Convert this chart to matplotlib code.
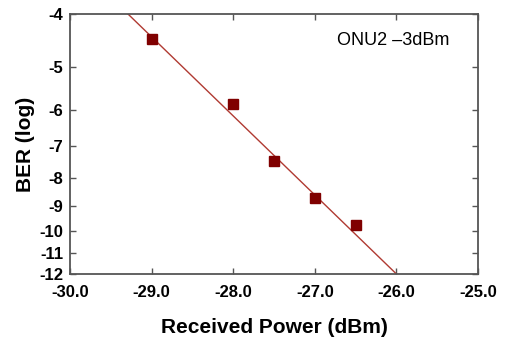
import matplotlib
matplotlib.use('Agg')
import matplotlib.pyplot as plt
import numpy as np

plt.rcParams['font.family'] = ['Liberation Sans', 'DejaVu Sans']

# measured points
power = [-29.0, -28.0, -27.5, -27.0, -26.5]
ber_log = [-4.44, -5.85, -7.46, -8.69, -9.74]

# fitted line end points
fit_power = [-29.29, -26.0]
fit_ber = [-4.0, -12.0]

x_ticks = [-30.0, -29.0, -28.0, -27.0, -26.0, -25.0]
y_ticks = [-4, -5, -6, -7, -8, -9, -10, -11, -12]


def fwd(y):
    y = np.asarray(y, dtype=float)
    return -np.log10(np.clip(-y, 1e-9, None))


def inv(v):
    return -10.0 ** (-np.asarray(v, dtype=float))


fig = plt.figure(figsize=(5.07, 3.40), dpi=100)
ax = fig.add_axes([0.138, 0.194, 0.805, 0.765])

ax.plot(fit_power, fit_ber, color='#b03a32', lw=1.0, zorder=2)
ax.plot(power, ber_log, ls='none', marker='s', ms=7.5, color='#800000',
        mec='#800000', zorder=3)

ax.set_yscale('function', functions=(fwd, inv))
ax.set_xlim(-30, -25)
ax.set_ylim(-12, -4)
ax.set_xticks(x_ticks)
ax.set_xticklabels(['%.1f' % t for t in x_ticks])
ax.set_yticks(y_ticks)
ax.set_yticklabels([str(t) for t in y_ticks])
ax.minorticks_off()

ax.tick_params(direction='in', top=True, right=True, length=4, width=1,
               color='#555555', labelsize=12)
ax.tick_params(axis='x', pad=8)
ax.tick_params(axis='y', pad=5)
for lab in ax.get_xticklabels() + ax.get_yticklabels():
    lab.set_fontweight('bold')
for s in ax.spines.values():
    s.set_color('#555555')
    s.set_linewidth(1.3)

ax.set_xlabel('Received Power (dBm)', fontsize=15, fontweight='bold', labelpad=13)
ax.set_ylabel('BER (log)', fontsize=15, fontweight='bold', labelpad=3)

ax.text(0.655, 0.88, 'ONU2 \u20133dBm', transform=ax.transAxes, fontsize=13)

fig.savefig('out.png', dpi=100)
